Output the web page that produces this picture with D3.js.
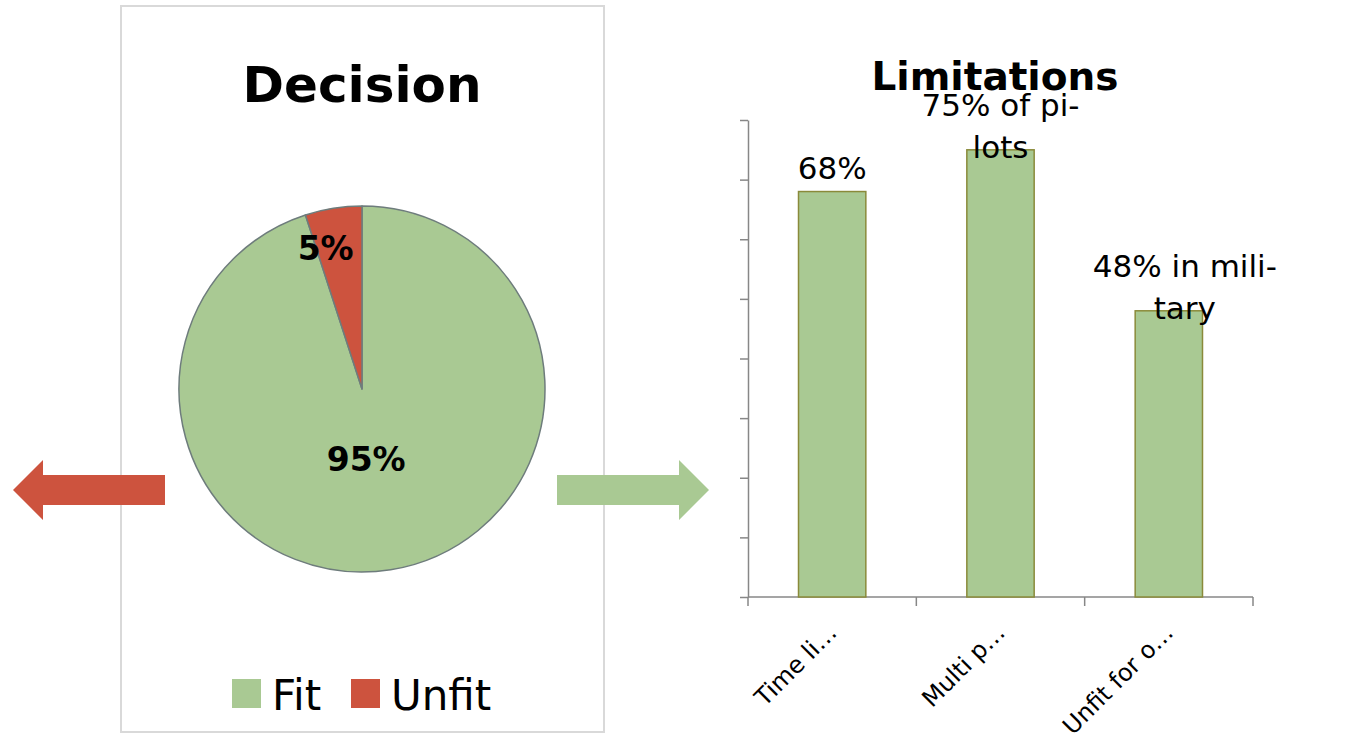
<!DOCTYPE html>
<html>
<head>
<meta charset="utf-8">
<script src="https://cdn.jsdelivr.net/npm/d3@7"></script>
<style>
  html, body { margin: 0; padding: 0; background: #ffffff; }
  svg { display: block; font-family: "DejaVu Sans", "Lato", sans-serif; }
</style>
</head>
<body>
<svg id="chart" width="1356" height="756"></svg>
<script>
// ---- Data: decision split ----
const decisionCategories = ["Fit", "Unfit"];
const decisionValues = [0.95, 0.05];
const decisionLabels = ["95%", "5%"];

// ---- Data: limitations ----
const limitCategories = ["Time li…", "Multi p…", "Unfit for o…"];
const limitValues = [0.68, 0.75, 0.48];
const limitLabels = [["68%"], ["75% of pi-", "lots"], ["48% in mili-", "tary"]];
const limitTicks = [0, 0.1, 0.2, 0.3, 0.4, 0.5, 0.6, 0.7, 0.8];

// ---- Colours ----
const GREEN = "#a9c993";
const RED = "#cd533e";
const BAR_EDGE = "#8a8a3a";
const AXIS = "#878787";

const svg = d3.select("#chart");

// ---------- Left panel: framed pie ----------
svg.append("rect")
  .attr("x", 121).attr("y", 6).attr("width", 483).attr("height", 726)
  .attr("fill", "none").attr("stroke", "#d9d9d9").attr("stroke-width", 2);

svg.append("text")
  .attr("x", 362).attr("y", 102)
  .attr("text-anchor", "middle")
  .attr("font-weight", "bold").attr("font-size", 50)
  .attr("fill", "#000")
  .text("Decision");

const pieCx = 362, pieCy = 389, pieR = 183;
const color = d3.scaleOrdinal().domain(decisionCategories).range([GREEN, RED]);

const pie = d3.pie().sort(null).value(d => d.value);
const slices = pie(decisionCategories.map((c, i) => ({ cat: c, value: decisionValues[i], label: decisionLabels[i] })));
const arc = d3.arc().innerRadius(0).outerRadius(pieR);

const pieG = svg.append("g").attr("transform", `translate(${pieCx},${pieCy})`);
pieG.selectAll("path.slice")
  .data(slices)
  .join("path")
  .attr("class", "slice")
  .attr("d", arc)
  .attr("fill", d => color(d.data.cat))
  .attr("stroke", "#6e7c7c")
  .attr("stroke-width", 1.5)
  .attr("stroke-linejoin", "round");

// Label radius: large slice near the middle, small slice near the rim
const isLarge = d => (d.endAngle - d.startAngle) > Math.PI;
const labelRadius = d => isLarge(d) ? pieR * 0.39 : pieR * 0.78;
const labelNudge = d => isLarge(d) ? -7 : -14;
pieG.selectAll("text.plabel")
  .data(slices)
  .join("text")
  .attr("class", "plabel")
  .attr("transform", d => {
    const c = d3.arc().innerRadius(labelRadius(d)).outerRadius(labelRadius(d)).centroid(d);
    return `translate(${c[0] + labelNudge(d)},${c[1]})`;
  })
  .attr("text-anchor", "middle")
  .attr("dy", "0.36em")
  .attr("font-weight", "bold")
  .attr("font-size", 33)
  .attr("fill", "#000")
  .text(d => d.data.label);

// Legend
const legend = svg.append("g").attr("transform", "translate(232,679)");
const legendItems = legend.selectAll("g")
  .data(decisionCategories)
  .join("g")
  .attr("transform", (d, i) => `translate(${i * 119},0)`);
legendItems.append("rect")
  .attr("width", 29).attr("height", 29)
  .attr("fill", d => color(d));
legendItems.append("text")
  .attr("x", 40).attr("y", 31)
  .attr("font-size", 42)
  .attr("fill", "#000")
  .text(d => d);

// Arrows either side of the pie
function arrow(tailX, tipX, cy, shaftHalf, headHalf, headLen, fill) {
  const dir = Math.sign(tipX - tailX);
  const baseX = tipX - dir * headLen;
  const p = d3.path();
  p.moveTo(tailX, cy - shaftHalf);
  p.lineTo(baseX, cy - shaftHalf);
  p.lineTo(baseX, cy - headHalf);
  p.lineTo(tipX, cy);
  p.lineTo(baseX, cy + headHalf);
  p.lineTo(baseX, cy + shaftHalf);
  p.lineTo(tailX, cy + shaftHalf);
  p.closePath();
  svg.append("path").attr("d", p.toString()).attr("fill", fill);
}
arrow(165, 13, 490, 15, 30, 30, RED);
arrow(557, 709, 490, 15, 30, 30, GREEN);

// ---------- Right panel: limitations bar chart ----------
const x0 = 748, x1 = 1253, yTop = 120, yBase = 597;

svg.append("text")
  .attr("x", 995).attr("y", 90)
  .attr("text-anchor", "middle")
  .attr("font-weight", "bold").attr("font-size", 39)
  .attr("fill", "#000")
  .text("Limitations");

const x = d3.scaleBand().domain(limitCategories).range([x0, x1]).paddingInner(0.6).paddingOuter(0.3);
const y = d3.scaleLinear().domain([0, 0.8]).range([yBase, yTop]);

// Y axis: ticks only, no labels
const yAxis = svg.append("g")
  .attr("transform", `translate(${x0},0)`)
  .call(d3.axisLeft(y).tickValues(limitTicks).tickSize(8).tickSizeOuter(0).tickFormat(""));
yAxis.selectAll("path, line").attr("stroke", AXIS).attr("stroke-width", 1.5);

// X axis with tick marks at category boundaries
const xAxisG = svg.append("g").attr("transform", `translate(0,${yBase})`);
xAxisG.append("line")
  .attr("x1", x0).attr("x2", x1)
  .attr("stroke", AXIS).attr("stroke-width", 1.5);
const boundaries = d3.range(limitCategories.length + 1).map(i => x0 + i * (x1 - x0) / limitCategories.length);
xAxisG.selectAll("line.tick")
  .data(boundaries)
  .join("line")
  .attr("class", "tick")
  .attr("x1", d => d).attr("x2", d => d)
  .attr("y1", 0).attr("y2", 9)
  .attr("stroke", AXIS).attr("stroke-width", 1.5);

// Bars
svg.selectAll("rect.bar")
  .data(limitValues)
  .join("rect")
  .attr("class", "bar")
  .attr("x", (d, i) => x(limitCategories[i]))
  .attr("y", d => y(d))
  .attr("width", x.bandwidth())
  .attr("height", d => yBase - y(d))
  .attr("fill", GREEN)
  .attr("stroke", BAR_EDGE)
  .attr("stroke-width", 1.5);

// Rotated category labels
svg.selectAll("text.xlabel")
  .data(limitCategories)
  .join("text")
  .attr("class", "xlabel")
  .attr("transform", d => `translate(${x(d) + x.bandwidth() / 2 + 6},${yBase + 37}) rotate(-45)`)
  .attr("text-anchor", "end")
  .attr("font-size", 24)
  .attr("fill", "#000")
  .text(d => d);

// Value labels, wrapped onto lines above each bar
const labelShift = [0, 0, 16];
const lineGap = 42;
const valueLabels = svg.selectAll("text.vlabel")
  .data(limitValues)
  .join("text")
  .attr("class", "vlabel")
  .attr("text-anchor", "middle")
  .attr("font-size", 31)
  .attr("fill", "#000");
valueLabels.each(function (d, i) {
  const lines = limitLabels[i];
  const cx = x(limitCategories[i]) + x.bandwidth() / 2 + labelShift[i];
  const mid = y(d) - 13;
  d3.select(this).selectAll("tspan")
    .data(lines)
    .join("tspan")
    .attr("x", cx)
    .attr("y", (t, j) => mid + (j - (lines.length - 1) / 2) * lineGap)
    .text(t => t);
});
</script>
</body>
</html>
